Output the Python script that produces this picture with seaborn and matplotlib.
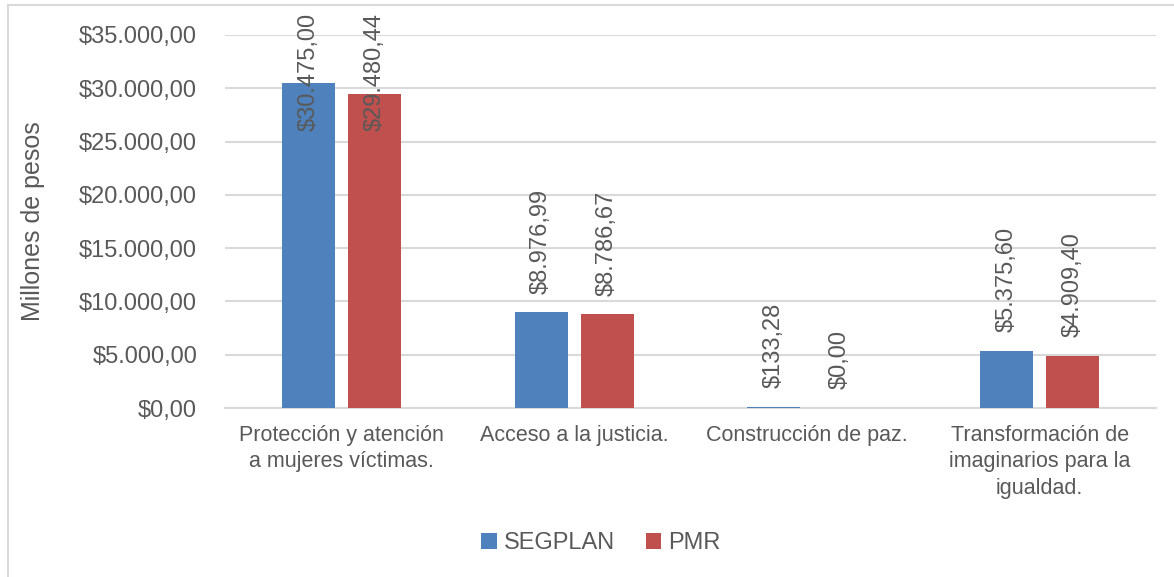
import pandas as pd
import matplotlib
matplotlib.use("Agg")
import matplotlib.pyplot as plt
import matplotlib.patches as mpatches
import matplotlib.transforms as mtransforms
from matplotlib.ticker import FuncFormatter
import seaborn as sns

categorias = [
    "Protección y atención\na mujeres víctimas.",
    "Acceso a la justicia.",
    "Construcción de paz.",
    "Transformación de\nimaginarios para la\nigualdad.",
]
segplan = [30475.00, 8976.99, 133.28, 5375.60]
pmr = [29480.44, 8786.67, 0.00, 4909.40]
series = ["SEGPLAN", "PMR"]
colores = ["#4F81BD", "#C0504D"]
TXT = "#595959"
GRID = "#D9D9D9"


def pesos(v):
    s = f"{v:,.2f}"
    return "$" + s.replace(",", "X").replace(".", ",").replace("X", ".")


df = pd.DataFrame({
    "categoria": categorias * 2,
    "serie": [series[0]] * 4 + [series[1]] * 4,
    "valor": segplan + pmr,
})

sns.set_style("white")
plt.rcParams["font.family"] = ["Liberation Sans", "DejaVu Sans"]

fig = plt.figure(figsize=(11.74, 5.77), dpi=100)
ax = fig.add_axes([225 / 1174, 1 - 408 / 577, 931 / 1174, 373 / 577])

sns.barplot(data=df, x="categoria", y="valor", hue="serie", order=categorias,
            hue_order=series, palette=colores, width=0.567, gap=0.2,
            saturation=1, linewidth=0, ax=ax, legend=True, zorder=3)

ax.set_ylim(0, 35000)
ax.set_xlim(-0.5, 3.5)
ax.set_yticks(range(0, 35001, 5000))
ax.yaxis.set_major_formatter(FuncFormatter(lambda v, p: pesos(v)))
ax.grid(axis="y", color=GRID, lw=1.5, zorder=0)
for s in ["top", "right", "left"]:
    ax.spines[s].set_visible(False)
ax.spines["bottom"].set_color(GRID)
ax.spines["bottom"].set_linewidth(1.5)
ax.tick_params(axis="y", length=0, pad=20, labelsize=17, labelcolor=TXT)
ax.tick_params(axis="x", length=0, pad=12, labelsize=15.5, labelcolor=TXT)
for lab in ax.get_xticklabels():
    lab.set_linespacing(1.35)
ax.set_xlabel("")
ax.set_ylabel("Millones de pesos", fontsize=18, color=TXT)
ax.yaxis.set_label_coords(-180 / 931, 0.5)

# data labels, rotated, pushed down when they would leave the chart
fig.canvas.draw()
renderer = fig.canvas.get_renderer()
top_px = 577 - 13
for cont in ax.containers:
    for bar in cont:
        v = bar.get_height()
        x = bar.get_x() + bar.get_width() / 2
        t = ax.annotate(pesos(v), (x, v), xytext=(0, 13.5), textcoords="offset points",
                        rotation=90, ha="center", va="bottom", fontsize=17, color=TXT)
        bb = t.get_window_extent(renderer)
        if bb.y1 > top_px:
            t.remove()
            tr = mtransforms.blended_transform_factory(ax.transData, fig.transFigure)
            ax.text(x, top_px / 577, pesos(v), transform=tr, rotation=90,
                    ha="center", va="top", fontsize=17, color=TXT, zorder=5)

leg = ax.legend(loc="center", bbox_to_anchor=(601 / 1174, 1 - 543 / 577),
                bbox_transform=fig.transFigure, ncol=2, frameon=False,
                fontsize=17, handlelength=0.65, handleheight=0.65,
                handletextpad=0.3, columnspacing=1.3)
for t in leg.get_texts():
    t.set_color(TXT)

fig.patches.append(mpatches.Rectangle((8 / 1174, -0.1), 1.2, 1.1 - 5 / 577,
                                      transform=fig.transFigure, fill=False,
                                      edgecolor=GRID, lw=1.5))

fig.savefig("out.png", dpi=100)
